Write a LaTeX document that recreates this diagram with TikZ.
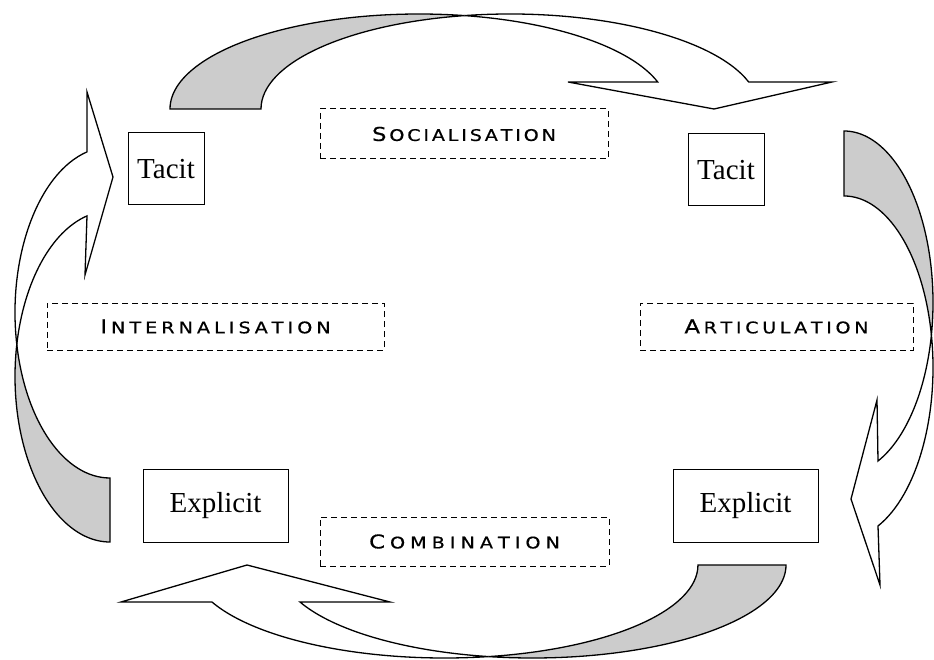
\documentclass[tikz,border=0pt]{standalone}
\usepackage{fontspec}
\setmainfont{Liberation Serif}
\newfontfamily\labfont[FakeStretch=1.2,FakeBold=0.6]{DejaVu Sans}
\newlength\trkskip
\def\trkA#1{\ifx#1\relax\else#1\kern\trkskip\expandafter\trkA\fi}
\newcommand\sclabel[3]{\setlength\trkskip{#1}{\labfont\fontsize{19pt}{19pt}\selectfont #2}\kern\trkskip{\labfont\fontsize{16pt}{16pt}\selectfont\trkA#3\relax}\kern-\trkskip}
\tikzset{
  band/.style={draw=black, line width=1.3pt, line join=miter, fill=white},
  backband/.style={draw=black, line width=1.3pt, fill=black!20},
  termbox/.style={draw, line width=1pt, inner sep=0pt, font=\fontsize{29pt}{29pt}\selectfont},
  modebox/.style={draw, dash pattern=on 6pt off 4pt, line width=1pt, inner sep=0pt}
}
\begin{document}
\begin{tikzpicture}[x=1pt,y=-1pt]
\useasboundingbox (0,0) rectangle (934,660);
% top arrow (socialisation)
\draw[backband] (170,109) arc[start angle=180, end angle=79.47, x radius=249pt, y radius=95pt]
  arc[start angle=100.53, end angle=180, x radius=249pt, y radius=95pt] -- cycle;
\draw[band] (657.7,82) arc[start angle=16.51, end angle=79.47, x radius=249pt, y radius=95pt]
  arc[start angle=100.53, end angle=16.51, x radius=249pt, y radius=95pt]
  -- (832,82) -- (714,109) -- (568,82) -- cycle;
% right arrow (articulation)
\draw[backband] (844,131) arc[start angle=90, end angle=-10.92, x radius=89pt, y radius=171.5pt]
  arc[start angle=10.92, end angle=90, x radius=89pt, y radius=171.5pt] -- cycle;
\draw[band] (878,461) arc[start angle=-67.54, end angle=-10.92, x radius=89pt, y radius=171.5pt]
  arc[start angle=10.92, end angle=-67.54, x radius=89pt, y radius=171.5pt]
  -- (880,585) -- (851,499) -- (877,400) -- cycle;
% bottom arrow (combination)
\draw[backband] (786,565) arc[start angle=0, end angle=-100, x radius=253.5pt, y radius=93pt]
  arc[start angle=-80, end angle=0, x radius=253.5pt, y radius=93pt] -- cycle;
\draw[band] (300,602) arc[start angle=-156.55, end angle=-100, x radius=253.5pt, y radius=93pt]
  arc[start angle=-80, end angle=-156.55, x radius=253.5pt, y radius=93pt]
  -- (121,602) -- (247,565) -- (390,602) -- cycle;
% left arrow (internalisation)
\draw[backband] (110,542) arc[start angle=270, end angle=168.85, x radius=95pt, y radius=165.5pt]
  arc[start angle=191.15, end angle=270, x radius=95pt, y radius=165.5pt] -- cycle;
\draw[band] (87,215.9) arc[start angle=104.01, end angle=168.85, x radius=95pt, y radius=165.5pt]
  arc[start angle=191.15, end angle=104.01, x radius=95pt, y radius=165.5pt]
  -- (87,92) -- (113,177) -- (85,275) -- cycle;
% knowledge boxes
\node[termbox, minimum width=76pt, minimum height=72pt] (tacitL) at (166,169) {Tacit};
\node[termbox, minimum width=76pt, minimum height=72pt] (tacitR) at (726,170) {Tacit};
\node[termbox, minimum width=145pt, minimum height=73pt] (explicitL) at (215.5,505.5) {Explicit};
\node[termbox, minimum width=145pt, minimum height=73pt] (explicitR) at (745.5,505.5) {Explicit};
% mode boxes
\node[modebox, minimum width=288pt, minimum height=50pt] (soc) at (464,134) {\sclabel{2.8pt}{S}{OCIALISATION}};
\node[modebox, minimum width=337pt, minimum height=47pt] (intl) at (215.5,326.5) {\sclabel{4pt}{I}{NTERNALISATION}};
\node[modebox, minimum width=273pt, minimum height=47pt] (art) at (776.5,326.5) {\sclabel{3.6pt}{A}{RTICULATION}};
\node[modebox, minimum width=289pt, minimum height=49pt] (comb) at (464.5,541.5) {\sclabel{5pt}{C}{OMBINATION}};
\end{tikzpicture}
\end{document}
